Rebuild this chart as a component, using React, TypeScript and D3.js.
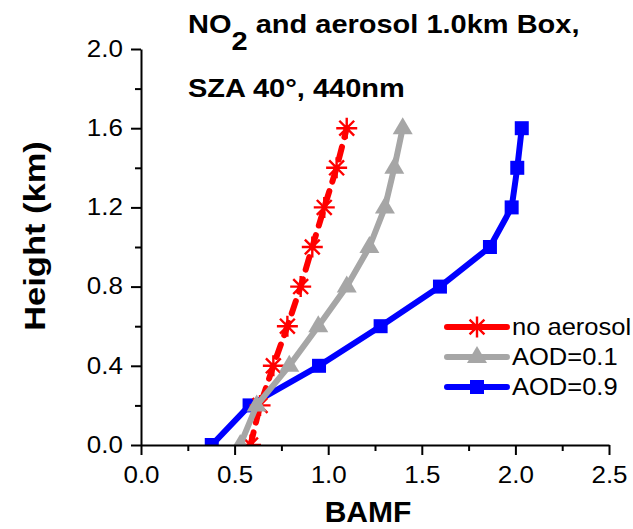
import React, { useEffect, useRef } from "react";
import * as d3 from "d3";

const heights = [0, 0.2, 0.4, 0.6, 0.8, 1.0, 1.2, 1.4, 1.6];
const noAerosol = [0.585, 0.636, 0.707, 0.782, 0.853, 0.915, 0.979, 1.045, 1.099];
const aod01 = [0.53, 0.618, 0.792, 0.947, 1.099, 1.22, 1.303, 1.353, 1.398];
const aod09 = [0.378, 0.58, 0.951, 1.28, 1.597, 1.864, 1.98, 2.01, 2.034];

const xMajor = [0, 0.5, 1.0, 1.5, 2.0, 2.5];
const xMinor = [0.25, 0.75, 1.25, 1.75, 2.25];
const yMajor = [0, 0.4, 0.8, 1.2, 1.6, 2.0];
const yMinor = [0.2, 0.6, 1.0, 1.4, 1.8];

const seriesNames = ["AOD=0.9", "no aerosol", "AOD=0.1"];
const legendOrder = ["no aerosol", "AOD=0.1", "AOD=0.9"];

const FONT = "Arial, 'Liberation Sans', sans-serif";
// the original text is a bit wider than Liberation Sans
const STRETCH = 1.13;

export default function App() {
  const ref = useRef<SVGSVGElement>(null);

  useEffect(() => {
    const svg = d3.select(ref.current);
    svg.selectAll("*").remove();

    const x = d3.scaleLinear().domain([0, 2.5]).range([141, 609]);
    const y = d3.scaleLinear().domain([0, 2.0]).range([445, 49]);

    const series: Record<string, any> = {
      "no aerosol": { vals: noAerosol, color: "#ff0000", marker: "star", dash: "13,10" },
      "AOD=0.1": { vals: aod01, color: "#a6a6a6", marker: "tri", dash: null },
      "AOD=0.9": { vals: aod09, color: "#0000ff", marker: "square", dash: null },
    };

    const drawMarker = (g: any, kind: string, cx: number, cy: number, color: string) => {
      if (kind === "square") {
        g.append("rect")
          .attr("x", cx - 7).attr("y", cy - 7)
          .attr("width", 14).attr("height", 14)
          .attr("fill", color);
      } else if (kind === "tri") {
        g.append("path")
          .attr("d", `M${cx},${cy - 11} L${cx + 10},${cy + 6} L${cx - 10},${cy + 6} Z`)
          .attr("fill", color);
      } else {
        const r = 10.5;
        const d = r * Math.SQRT1_2;
        g.append("path")
          .attr("d",
            `M${cx},${cy - r}V${cy + r}M${cx - r},${cy}H${cx + r}` +
            `M${cx - d},${cy - d}L${cx + d},${cy + d}M${cx - d},${cy + d}L${cx + d},${cy - d}`)
          .attr("stroke", color)
          .attr("stroke-width", 2.4)
          .attr("fill", "none");
      }
    };

    svg.append("defs").append("clipPath").attr("id", "plotclip")
      .append("rect").attr("x", 141).attr("y", 0).attr("width", 470).attr("height", 445);

    const plot = svg.append("g").attr("clip-path", "url(#plotclip)");

    const line = d3.line<number>()
      .x((d) => x(d))
      .y((_, i) => y(heights[i]));

    seriesNames.forEach((name) => {
      const s = series[name];
      const g = plot.append("g");
      g.append("path")
        .attr("d", line(s.vals))
        .attr("fill", "none")
        .attr("stroke", s.color)
        .attr("stroke-width", 6)
        .attr("stroke-linejoin", "round")
        .attr("stroke-linecap", s.dash ? "round" : "butt")
        .attr("stroke-dasharray", s.dash);
      s.vals.forEach((v: number, i: number) => drawMarker(g, s.marker, x(v), y(heights[i]), s.color));
    });

    // axes
    const xAxis = svg.append("g").attr("transform", "translate(0,445)");
    xAxis.call(d3.axisBottom(x).tickValues(xMinor).tickSize(6).tickFormat(() => ""));
    xAxis.call((g: any) => g.select(".domain").remove());
    const xAxisMaj = svg.append("g").attr("transform", "translate(0,445)")
      .call(d3.axisBottom(x).tickValues(xMajor).tickSize(10).tickSizeOuter(0).tickPadding(12).tickFormat(d3.format(".1f")));

    const yAxis = svg.append("g").attr("transform", "translate(141,0)");
    yAxis.call(d3.axisLeft(y).tickValues(yMinor).tickSize(6).tickFormat(() => ""));
    yAxis.call((g: any) => g.select(".domain").remove());
    const yAxisMaj = svg.append("g").attr("transform", "translate(141,0)")
      .call(d3.axisLeft(y).tickValues(yMajor).tickSize(10).tickSizeOuter(0).tickPadding(6).tickFormat(d3.format(".1f")));

    svg.selectAll(".domain, .tick line").attr("stroke", "#000").attr("stroke-width", 2);
    [xAxisMaj, yAxisMaj].forEach((a) =>
      a.selectAll("text")
        .attr("font-family", FONT).attr("font-size", 23).attr("fill", "#000")
        .attr("transform", `scale(${STRETCH},1)`));

    // axis labels
    svg.append("text")
      .attr("x", 368).attr("y", 522)
      .attr("text-anchor", "middle")
      .attr("font-family", FONT).attr("font-size", 30).attr("font-weight", "bold")
      .text("BAMF");

    svg.append("text")
      .attr("transform", "translate(45,236) rotate(-90) scale(1.15,1)")
      .attr("text-anchor", "middle")
      .attr("font-family", FONT).attr("font-size", 30).attr("font-weight", "bold")
      .text("Height (km)");

    // title
    const t1 = svg.append("text")
      .attr("transform", "translate(188,33) scale(1.16,1)")
      .attr("font-family", FONT).attr("font-size", 25).attr("font-weight", "bold");
    t1.append("tspan").text("NO");
    t1.append("tspan").attr("dy", 17).text("2");
    t1.append("tspan").attr("dy", -17).text(" and aerosol 1.0km Box,");

    svg.append("text")
      .attr("transform", "translate(188,97) scale(1.16,1)")
      .attr("font-family", FONT).attr("font-size", 25).attr("font-weight", "bold")
      .text("SZA 40°, 440nm");

    // legend
    legendOrder.forEach((name, i) => {
      const s = series[name];
      const ly = 327 + i * 30;
      const g = svg.append("g");
      g.append("line")
        .attr("x1", 447).attr("x2", 507)
        .attr("y1", ly).attr("y2", ly)
        .attr("stroke", s.color).attr("stroke-width", 6)
        .attr("stroke-linecap", "round");
      drawMarker(g, s.marker, 477, ly, s.color);
      g.append("text")
        .attr("transform", `translate(512,${ly + 8}) scale(1.11,1)`)
        .attr("font-family", FONT).attr("font-size", 23)
        .text(name);
    });
  }, []);

  return (
    <svg ref={ref} width={633} height={529} style={{ position: "absolute", left: 0, top: 0 }} />
  );
}
